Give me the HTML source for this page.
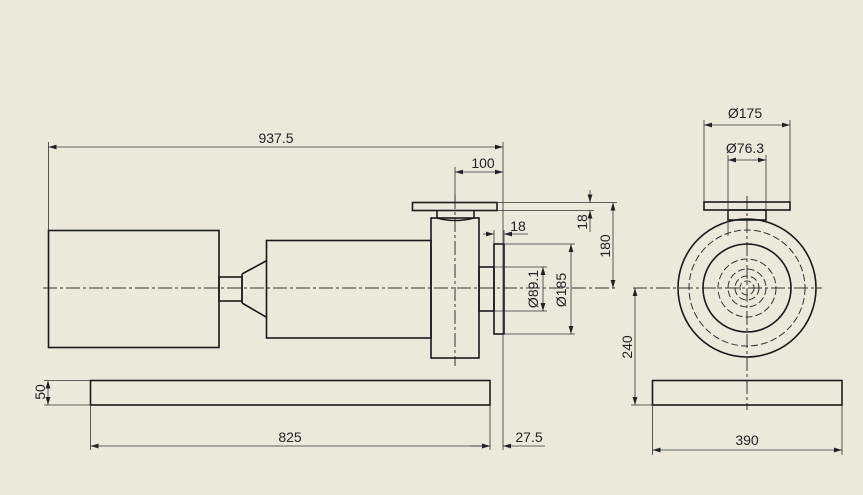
<!DOCTYPE html>
<html><head><meta charset="utf-8"><style>
html,body{margin:0;padding:0;background:#ECE9DA;}
svg{display:block;}
text{font-family:"Liberation Sans",sans-serif;font-size:14px;fill:#222;}
</style></head><body>
<svg width="863" height="495" viewBox="0 0 863 495" xmlns="http://www.w3.org/2000/svg">
<defs>
<marker id="a" viewBox="0 0 10 6" refX="10" refY="3" markerWidth="8" markerHeight="5" orient="auto-start-reverse" markerUnits="userSpaceOnUse"><path d="M0,0L10,3L0,6z" fill="#222"/></marker>
</defs>
<rect width="863" height="495" fill="#ECE9DA"/>
<!-- center lines -->
<g stroke="#333" stroke-width="1" stroke-dasharray="14,3,3,3" fill="none">
<line x1="43" y1="288" x2="615" y2="288"/>
<line x1="455" y1="195" x2="455" y2="366"/>
<line x1="633" y1="288" x2="822" y2="288"/>
<line x1="747" y1="196" x2="747" y2="410"/>
</g>
<!-- solid geometry -->
<g stroke="#1a1a1a" stroke-width="1.6" fill="none">
<rect x="48.5" y="230.5" width="170.5" height="117"/>
<rect x="219" y="277" width="23" height="24"/>
<polyline points="242,274 266,261"/>
<polyline points="242,303 266,317"/>
<line x1="242" y1="274" x2="242" y2="303"/>
<rect x="266.5" y="240.5" width="164.5" height="97.5"/>
<rect x="412.5" y="202.5" width="84.5" height="8"/>
<path d="M437,210.5V218M474,210.5V218M437,218Q455,223 474,218"/>
<rect x="431" y="218" width="48" height="140"/>
<rect x="479" y="267" width="15" height="44"/>
<rect x="494" y="244" width="10" height="90"/>
<rect x="90.5" y="380.5" width="399.5" height="24.5"/>
<rect x="652.5" y="380.5" width="189.5" height="24.5"/>
<rect x="704" y="202" width="86" height="8"/>
<rect x="728" y="210" width="38" height="10"/>
<circle cx="747" cy="288" r="69"/>
<circle cx="747" cy="288" r="44"/>
</g>
<g stroke="#333" stroke-width="1" fill="none" stroke-dasharray="7,3">
<circle cx="747" cy="288" r="58"/>
<circle cx="747" cy="288" r="29"/>
<circle cx="747" cy="288" r="19"/>
<circle cx="747" cy="288" r="12"/>
<circle cx="747" cy="288" r="7"/>
</g>
<!-- extension lines -->
<g stroke="#333" stroke-width="0.8" fill="none">
<line x1="48.5" y1="142" x2="48.5" y2="230"/>
<line x1="503" y1="142" x2="503" y2="450"/>
<line x1="455" y1="167" x2="455" y2="200"/>
<line x1="90.5" y1="405" x2="90.5" y2="450"/>
<line x1="490" y1="405" x2="490" y2="450"/>
<line x1="44" y1="380.5" x2="90" y2="380.5"/>
<line x1="44" y1="405" x2="90" y2="405"/>
<line x1="497" y1="202.5" x2="617" y2="202.5"/>
<line x1="497" y1="210.5" x2="594" y2="210.5"/>
<line x1="494" y1="230" x2="494" y2="244"/>
<line x1="504" y1="230" x2="504" y2="244"/>
<line x1="494" y1="267" x2="547" y2="267"/>
<line x1="494" y1="311" x2="547" y2="311"/>
<line x1="504" y1="244" x2="575" y2="244"/>
<line x1="504" y1="334" x2="575" y2="334"/>
<line x1="652.5" y1="405" x2="652.5" y2="455"/>
<line x1="842" y1="405" x2="842" y2="455"/>
<line x1="631" y1="405" x2="652" y2="405"/>
<line x1="704" y1="120" x2="704" y2="202"/>
<line x1="790" y1="120" x2="790" y2="202"/>
<line x1="728" y1="155" x2="728" y2="236"/>
<line x1="766" y1="155" x2="766" y2="210"/>
</g>
<!-- dimension lines -->
<g stroke="#333" stroke-width="0.8" fill="none">
<line x1="48.5" y1="147" x2="503" y2="147" marker-start="url(#a)" marker-end="url(#a)"/>
<line x1="455" y1="172" x2="503" y2="172" marker-start="url(#a)" marker-end="url(#a)"/>
<line x1="90.5" y1="446" x2="490" y2="446" marker-start="url(#a)" marker-end="url(#a)"/>
<line x1="470" y1="446" x2="490" y2="446" marker-end="url(#a)"/>
<line x1="503" y1="446" x2="545" y2="446" marker-start="url(#a)"/>
<line x1="48" y1="380.5" x2="48" y2="405" marker-start="url(#a)" marker-end="url(#a)"/>
<line x1="483" y1="234" x2="494" y2="234" marker-end="url(#a)"/>
<line x1="504" y1="234" x2="528" y2="234" marker-start="url(#a)"/>
<line x1="543" y1="267" x2="543" y2="311" marker-start="url(#a)" marker-end="url(#a)"/>
<line x1="571" y1="244" x2="571" y2="334" marker-start="url(#a)" marker-end="url(#a)"/>
<line x1="590" y1="190" x2="590" y2="202.5" marker-end="url(#a)"/>
<line x1="590" y1="210.5" x2="590" y2="232" marker-start="url(#a)"/>
<line x1="613" y1="202.5" x2="613" y2="288" marker-start="url(#a)" marker-end="url(#a)"/>
<line x1="635" y1="288" x2="635" y2="405" marker-start="url(#a)" marker-end="url(#a)"/>
<line x1="652.5" y1="450" x2="842" y2="450" marker-start="url(#a)" marker-end="url(#a)"/>
<line x1="704" y1="125" x2="790" y2="125" marker-start="url(#a)" marker-end="url(#a)"/>
<line x1="728" y1="160" x2="766" y2="160" marker-start="url(#a)" marker-end="url(#a)"/>
</g>
<!-- labels -->
<text x="276" y="143" text-anchor="middle">937.5</text>
<text x="483" y="168" text-anchor="middle">100</text>
<text x="290" y="442" text-anchor="middle">825</text>
<text x="529" y="442" text-anchor="middle">27.5</text>
<text x="518" y="231" text-anchor="middle">18</text>
<text x="745" y="118" text-anchor="middle">Ø175</text>
<text x="745" y="153" text-anchor="middle">Ø76.3</text>
<text x="747" y="445" text-anchor="middle">390</text>
<text transform="translate(45,392) rotate(-90)" text-anchor="middle">50</text>
<text transform="translate(538,289) rotate(-90)" text-anchor="middle">Ø89.1</text>
<text transform="translate(566,290) rotate(-90)" text-anchor="middle">Ø185</text>
<text transform="translate(587,222) rotate(-90)" text-anchor="middle">18</text>
<text transform="translate(610,246) rotate(-90)" text-anchor="middle">180</text>
<text transform="translate(632,347) rotate(-90)" text-anchor="middle">240</text>
</svg>
</body></html>
